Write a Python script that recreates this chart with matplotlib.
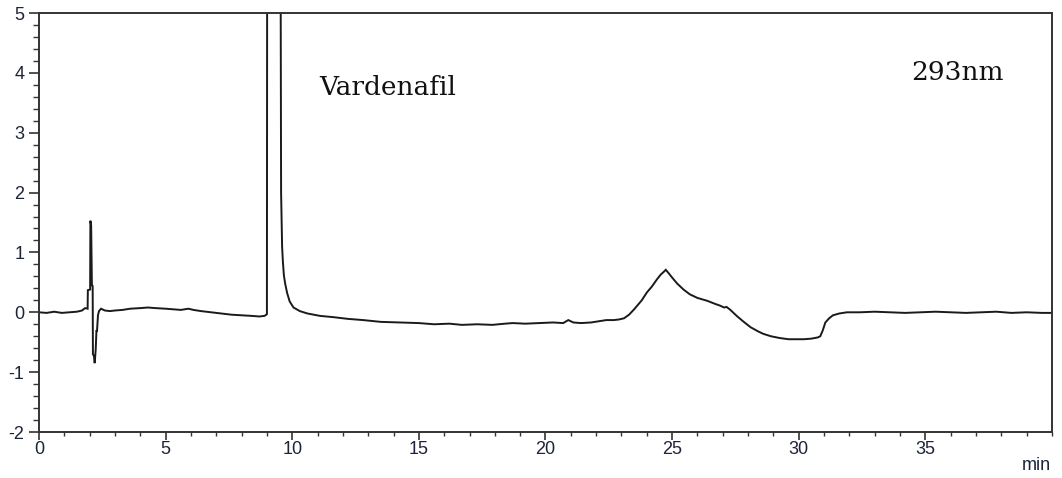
import matplotlib
matplotlib.use("Agg")
import matplotlib.pyplot as plt
from matplotlib.ticker import MultipleLocator

plt.rcParams["axes.unicode_minus"] = False

# Chromatogram trace: retention time (min) and detector response (mAU)
retention_time = [
    0.0, 0.3, 0.6, 0.9, 1.2, 1.5, 1.7, 1.82, 1.92, 1.93, 2.02, 2.03, 2.06, 2.09,
    2.12, 2.13, 2.17, 2.2, 2.24, 2.27, 2.29, 2.33, 2.37, 2.45, 2.6, 2.8, 3.0,
    3.3, 3.6, 4.0, 4.3, 4.6, 5.0, 5.3, 5.6, 5.9, 6.1, 6.4, 6.8, 7.2, 7.6, 8.0,
    8.4, 8.7, 8.9, 8.98, 9.0, 9.01, 9.28, 9.54, 9.56, 9.6, 9.63, 9.67, 9.72,
    9.8, 9.9, 10.05, 10.3, 10.6, 11.1, 11.6, 12.2, 12.8, 13.5, 14.2, 15.0, 15.6,
    16.2, 16.7, 17.3, 17.9, 18.4, 18.7, 19.2, 19.8, 20.3, 20.7, 20.9, 21.1,
    21.4, 21.8, 22.1, 22.4, 22.7, 22.9, 23.1, 23.3, 23.5, 23.8, 24.0, 24.2,
    24.4, 24.55, 24.68, 24.75, 24.85, 25.0, 25.2, 25.45, 25.7, 26.0, 26.4,
    26.7, 26.9, 27.05, 27.15, 27.3, 27.55, 27.8, 28.1, 28.4, 28.6, 28.9, 29.25,
    29.6, 29.9, 30.2, 30.5, 30.75, 30.85, 30.95, 31.05, 31.2, 31.35, 31.6,
    31.9, 32.4, 33.0, 33.6, 34.2, 34.8, 35.4, 36.0, 36.6, 37.2, 37.8, 38.4,
    39.0, 39.6, 40.0,
]
absorbance = [
    0.0, -0.01, 0.01, -0.01, 0.0, 0.01, 0.03, 0.07, 0.06, 0.37, 0.38, 1.53,
    1.45, 0.45, 0.44, -0.7, -0.73, -0.85, -0.62, -0.3, -0.32, -0.05, 0.02, 0.06,
    0.03, 0.02, 0.03, 0.04, 0.06, 0.07, 0.08, 0.07, 0.06, 0.05, 0.04, 0.06,
    0.04, 0.02, 0.0, -0.02, -0.04, -0.05, -0.06, -0.07, -0.06, -0.04, -0.03,
    6.0, 12.0, 6.0, 2.0, 1.1, 0.85, 0.62, 0.48, 0.32, 0.18, 0.08, 0.02, -0.02,
    -0.06, -0.08, -0.11, -0.13, -0.16, -0.17, -0.18, -0.2, -0.19, -0.21, -0.2,
    -0.21, -0.19, -0.18, -0.19, -0.18, -0.17, -0.18, -0.13, -0.17, -0.18,
    -0.17, -0.15, -0.13, -0.13, -0.12, -0.1, -0.04, 0.05, 0.2, 0.33, 0.43,
    0.55, 0.63, 0.68, 0.71, 0.66, 0.58, 0.48, 0.38, 0.3, 0.24, 0.19, 0.14,
    0.11, 0.08, 0.09, 0.04, -0.06, -0.15, -0.25, -0.32, -0.36, -0.4, -0.43,
    -0.45, -0.45, -0.45, -0.44, -0.42, -0.4, -0.3, -0.17, -0.1, -0.05, -0.02,
    0.0, 0.0, 0.01, 0.0, -0.01, 0.0, 0.01, 0.0, -0.01, 0.0, 0.01, -0.01, 0.0,
    -0.01, -0.01,
]

x_ticks = [0, 5, 10, 15, 20, 25, 30, 35]
y_ticks = [-2, -1, 0, 1, 2, 3, 4, 5]
peak_label = "Vardenafil"
wavelength_label = "293nm"
x_unit = "min"

tick_color = "#1c2438"
line_color = "#1a1a1a"

fig = plt.figure(figsize=(10.62, 4.78), dpi=100)
ax = fig.add_axes([0.0367, 0.0962, 0.9539, 0.8766])

ax.plot(retention_time, absorbance, color=line_color, linewidth=1.4,
        solid_joinstyle="miter")

ax.set_xlim(0, 40)
ax.set_ylim(-2, 5)
ax.set_xticks(x_ticks)
ax.set_yticks(y_ticks)
ax.xaxis.set_minor_locator(MultipleLocator(1))
ax.yaxis.set_minor_locator(MultipleLocator(0.2))

for side in ("left", "bottom", "top", "right"):
    ax.spines[side].set_color("#333333")
    ax.spines[side].set_linewidth(1.4)

ax.tick_params(axis="y", which="major", direction="out", length=7.5, width=1.2,
               color="#333333", labelsize=13, labelcolor=tick_color, pad=3)
ax.tick_params(axis="x", which="major", direction="out", length=5.5, width=1.2,
               color="#333333", labelsize=13, labelcolor=tick_color, pad=1)
ax.tick_params(axis="y", which="minor", direction="out", length=4, width=1.0,
               color="#333333")
ax.tick_params(axis="x", which="minor", direction="out", length=3, width=1.0,
               color="#333333")
ax.tick_params(top=False, right=False, which="both")
for lbl in ax.get_xticklabels() + ax.get_yticklabels():
    lbl.set_fontfamily("Liberation Sans")

ax.text(11.05, 3.75, peak_label, fontsize=19, family="DejaVu Serif",
        color="#111111", va="center", ha="left")
ax.text(34.45, 4.0, wavelength_label, fontsize=19, family="DejaVu Serif",
        color="#111111", va="center", ha="left")
fig.text(0.99, 0.027, x_unit, fontsize=13, family="Liberation Sans",
         color=tick_color, ha="right", va="center")

fig.savefig("out.png", dpi=100, facecolor="white")
